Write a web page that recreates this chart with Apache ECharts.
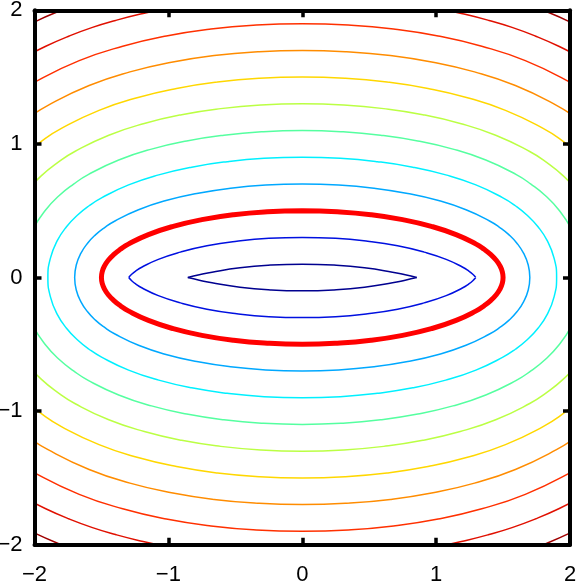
<!DOCTYPE html>
<html>
<head>
<meta charset="utf-8">
<script src="https://cdn.jsdelivr.net/npm/echarts@6/dist/echarts.min.js"></script>
<style>
html, body { margin: 0; padding: 0; background: #fff; }
#chart { width: 578px; height: 586px; }
</style>
</head>
<body>
<div id="chart"></div>
<script>
// axis range and ticks
var axisMin = -2
var axisMax = 2
var tickStep = 1

// upper-right quarter of every contour as [x, y]
// (the curves are level lines around the red ellipse, so one quarter is mirrored)
var inner04 = [[0, 0.1], [0.237, 0.093], [0.465, 0.073], [0.674, 0.040], [0.769, 0.020], [0.855, 0]]
var inner02 = [[0, 0.3], [0.249, 0.293], [0.489, 0.271], [0.712, 0.237], [0.910, 0.190], [1.075, 0.136],
  [1.199, 0.077], [1.243, 0.049], [1.274, 0.024], [1.296, 0]]
var ellipse = [[0, 0.5], [0.261, 0.492], [0.513, 0.470], [0.75, 0.433], [0.964, 0.383], [1.149, 0.321],
  [1.299, 0.25], [1.359, 0.211], [1.409, 0.171], [1.449, 0.129], [1.477, 0.087], [1.494, 0.044], [1.5, 0]]
var outer02 = [[0, 0.7], [0.272, 0.692], [0.537, 0.668], [0.788, 0.629], [1.018, 0.576], [1.223, 0.507],
  [1.399, 0.423], [1.476, 0.374], [1.545, 0.319], [1.605, 0.255], [1.654, 0.180], [1.688, 0.094], [1.7, 0]]
var outer04 = [[0, 0.9], [0.284, 0.892], [0.561, 0.867], [0.826, 0.826], [1.072, 0.768], [1.297, 0.693],
  [1.499, 0.596], [1.592, 0.537], [1.680, 0.466], [1.761, 0.380], [1.831, 0.274], [1.881, 0.145], [1.9, 0]]
var outer06 = [[0, 1.1], [0.296, 1.091], [0.585, 1.065], [0.863, 1.022], [1.126, 0.961], [1.371, 0.879],
  [1.599, 0.770], [1.708, 0.699], [1.815, 0.614], [1.917, 0.505], [2.008, 0.367], [2.075, 0.196]]
var outer08 = [[0, 1.3], [0.308, 1.291], [0.609, 1.264], [0.901, 1.219], [1.180, 1.153], [1.445, 1.065],
  [1.699, 0.943], [1.825, 0.862], [1.950, 0.761], [2.072, 0.631]]
var outer10 = [[0, 1.5], [0.319, 1.491], [0.633, 1.463], [0.939, 1.415], [1.234, 1.346], [1.518, 1.251],
  [1.799, 1.116], [1.941, 1.025], [2.085, 0.908]]
var outer12 = [[0, 1.7], [0.331, 1.690], [0.658, 1.661], [0.977, 1.611], [1.287, 1.539], [1.592, 1.437],
  [1.899, 1.289], [2.057, 1.188]]
var outer14 = [[0, 1.9], [0.343, 1.890], [0.682, 1.860], [1.015, 1.808], [1.341, 1.731], [1.666, 1.623],
  [1.999, 1.462], [2.174, 1.350]]
// these two only show in the corners
var outer16 = [[0.706, 2.058], [1.052, 2.004], [1.224, 1.968], [1.395, 1.924], [1.567, 1.872], [1.740, 1.808],
  [1.916, 1.731], [2.099, 1.636]]
var outer18 = [[1.449, 2.116], [1.630, 2.061], [1.814, 1.994], [2.002, 1.912], [2.199, 1.809]]

var contours = [
  { q: inner04, kind: 'lens', color: '#00008f', width: 1.5 },
  { q: inner02, kind: 'lens', color: '#0010e0', width: 1.5 },
  { q: outer02, kind: 'ring', color: '#00a8ff', width: 1.5 },
  { q: outer04, kind: 'ring', color: '#00f0ff', width: 1.5 },
  { q: outer06, kind: 'band', color: '#55ffa0', width: 1.5 },
  { q: outer08, kind: 'band', color: '#bbff44', width: 1.5 },
  { q: outer10, kind: 'band', color: '#ffd700', width: 1.5 },
  { q: outer12, kind: 'band', color: '#ff8c00', width: 1.5 },
  { q: outer14, kind: 'band', color: '#ff3000', width: 1.5 },
  { q: outer16, kind: 'corner', color: '#e01000', width: 1.5 },
  { q: outer18, kind: 'corner', color: '#a00000', width: 1.5 },
  { q: ellipse, kind: 'ring', color: '#ff0000', width: 5 }
]

function flip (pts, sx, sy) {
  return pts.map(function (p) { return [sx * p[0], sy * p[1]] })
}

// left-to-right across the top (sy = 1) or the bottom (sy = -1)
function half (q, sy) {
  return flip(q.slice(1).reverse(), -1, sy).concat(flip(q, 1, sy))
}

function pieces (c) {
  if (c.kind === 'ring') {
    // start at the top so the tips stay round
    var ur = flip(c.q, 1, 1)
    var lr = flip(c.q.slice(0, -1).reverse(), 1, -1)
    var ll = flip(c.q.slice(1), -1, -1)
    var ul = flip(c.q.slice(0, -1).reverse(), -1, 1)
    return [ur.concat(lr, ll, ul)]
  }
  if (c.kind === 'corner') {
    return [flip(c.q, 1, 1), flip(c.q, -1, 1), flip(c.q, 1, -1), flip(c.q, -1, -1)]
  }
  return [half(c.q, 1), half(c.q, -1)]
}

var serise = []
contours.forEach(function (c) {
  pieces(c).forEach(function (pts) {
    serise.push({
      type: 'line',
      data: pts,
      symbol: 'none',
      smooth: true,
      clip: true,
      silent: true,
      lineStyle: { color: c.color, width: c.width }
    })
  })
})

var labelFont = { color: '#000', fontSize: 22, fontFamily: 'Liberation Sans, Arial, sans-serif' }
var frameLine = { show: true, onZero: false, lineStyle: { color: '#000', width: 4 } }
var inTick = { show: true, inside: true, length: 7, lineStyle: { color: '#000', width: 3.5 } }

function minusSign (v) {
  return v < 0 ? '\u2212' + Math.abs(v) : String(v)
}

function axis (pos, withLabels, margin, pad) {
  return {
    type: 'value',
    position: pos,
    min: axisMin,
    max: axisMax,
    interval: tickStep,
    z: 10,
    axisLine: frameLine,
    axisTick: inTick,
    splitLine: { show: false },
    axisLabel: Object.assign({ show: withLabels, margin: margin, padding: pad, formatter: minusSign }, labelFont)
  }
}

var option = {
  animation: false,
  backgroundColor: '#fff',
  grid: { left: 34.5, right: 8, top: 10.3, bottom: 41.3, containLabel: false, outerBoundsMode: 'none' },
  xAxis: [axis('bottom', true, 19, 0), axis('top', false, 8, 0)],
  yAxis: [axis('left', true, 12, [4, 0, 0, 0]), axis('right', false, 8, 0)],
  series: serise
}

var myChart = echarts.init(document.getElementById('chart'))
myChart.setOption(option)
</script>
</body>
</html>
